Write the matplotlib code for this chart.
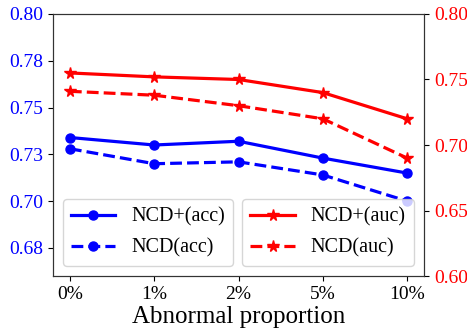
import matplotlib
matplotlib.use('Agg')
import matplotlib.pyplot as plt
import matplotlib.ticker as ticker

plt.rcParams.update({
  'font.family'      : ['Liberation Serif', 'DejaVu Serif'],
  'mathtext.fontset' : 'stix',
})

# data
props = ['0%', '1%', '2%', '5%', '10%']
ncd_plus_acc = [0.734, 0.730, 0.732, 0.723, 0.715]
ncd_acc      = [0.728, 0.720, 0.721, 0.714, 0.700]
ncd_plus_auc = [0.755, 0.752, 0.750, 0.740, 0.720]
ncd_auc      = [0.741, 0.738, 0.730, 0.720, 0.690]

left_ticks  = [0.675, 0.700, 0.725, 0.750, 0.775, 0.800]
left_labels = ['0.68', '0.70', '0.73', '0.75', '0.78', '0.80']
right_ticks = [0.60, 0.65, 0.70, 0.75, 0.80]

x = list(range(len(props)))

fig, ax = plt.subplots(figsize=(4.67, 3.3), dpi=100)
ax2 = ax.twinx()

l1, = ax.plot(x, ncd_plus_acc, color='blue', linestyle='-', linewidth=2.3,
              marker='o', markersize=6.5, label='NCD+(acc)')
l2, = ax.plot(x, ncd_acc, color='blue', linestyle='--', linewidth=2.3,
              marker='o', markersize=6.5, label='NCD(acc)')
r1, = ax2.plot(x, ncd_plus_auc, color='red', linestyle='-', linewidth=2.3,
               marker='*', markersize=8.5, label='NCD+(auc)')
r2, = ax2.plot(x, ncd_auc, color='red', linestyle='--', linewidth=2.3,
               marker='*', markersize=8.5, label='NCD(auc)')

ax.set_ylim(0.66, 0.80)
ax.set_yticks(left_ticks)
ax.set_yticklabels(left_labels)
ax.tick_params(axis='y', labelcolor='blue', labelsize=14)
ax.tick_params(axis='x', labelsize=14)
ax.set_xticks(x)
ax.set_xticklabels(props)
ax.set_xlim(-0.2, 4.2)

ax2.set_ylim(0.60, 0.80)
ax2.set_yticks(right_ticks)
ax2.yaxis.set_major_formatter(ticker.FormatStrFormatter('%.2f'))
ax2.tick_params(axis='y', labelcolor='red', labelsize=14)

for a in (ax, ax2):
  for s in a.spines.values():
    s.set_color('#333333')

ax.set_xlabel('Abnormal proportion', fontsize=18, labelpad=2)

leg1 = ax2.legend(handles=[l1, l2], loc='lower left', fontsize=14.5,
                  handlelength=2.2, labelspacing=0.6)
ax2.add_artist(leg1)
ax2.legend(handles=[r1, r2], loc='lower right', fontsize=14.5,
           handlelength=2.2, labelspacing=0.6)

plt.subplots_adjust(left=0.1135, right=0.908, top=0.9576, bottom=0.1636)
plt.savefig('out.png')
